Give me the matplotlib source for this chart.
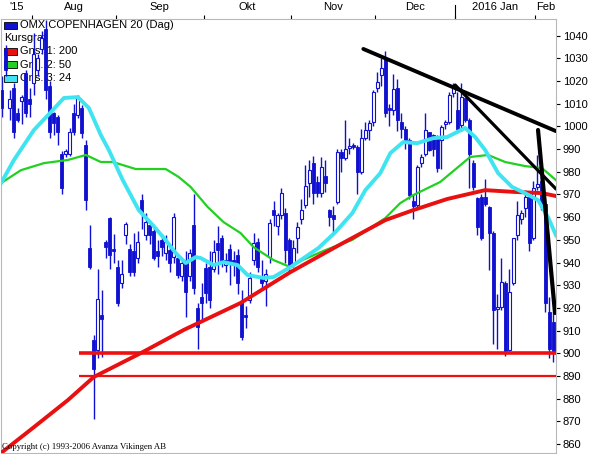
import numpy as np
import matplotlib
matplotlib.use("Agg")
import matplotlib.pyplot as plt
from matplotlib.patches import Rectangle
from matplotlib.lines import Line2D

# daily candles, Jul 22 2015 .. Feb 5 2016 (trading days)
opens = [1016, 1034, 1008, 1017, 1006, 1011, 1023.5, 1012, 1019, 1025,
         1034, 1043, 1018, 1006, 1004, 988, 988, 988, 1006, 1005,
         1008, 992, 946.4, 906, 901.5, 917, 949, 959.6, 946, 938,
         931, 952, 946, 945, 942, 967.5, 952, 956.5, 954, 945,
         950, 944, 945.5, 942.5, 942, 934, 941, 934, 956.5, 920,
         925, 937.6, 938, 937, 948.6, 951, 939, 946, 941, 943.5,
         922.5, 917, 923.5, 941, 949, 933, 932, 942.5, 963, 956,
         961, 962, 950, 940, 951, 959, 965.5, 975, 984, 975.5,
         970.6, 978, 963, 961, 966.6, 988.6, 986, 990.5, 991.7, 991,
         980, 995, 998.4, 1002, 1017, 1022.6, 1030, 1008, 1007, 1017,
         1002, 999, 994, 967, 965.4, 984, 988, 997.5, 996, 995,
         994, 1001, 1002, 1014.7, 1007, 1000.6, 1012.5, 1003, 984, 968.4,
         969, 969, 964.5, 953, 919.5, 920.4, 931, 901.5, 931, 952,
         959, 964, 969, 951, 973.5, 976, 966, 918, 914]
highs = [1022, 1036, 1016, 1019, 1008, 1014, 1025, 1017, 1041, 1032,
         1042, 1047, 1020, 1006.5, 1005, 989, 990, 999.5, 1010, 1014,
         1009.5, 994, 956.5, 908, 937, 928, 950, 960, 952.5, 941,
         941, 958, 948, 953, 954, 970, 962, 957, 956, 950,
         952, 952, 948, 962, 943, 942, 945, 946, 970, 922,
         931, 940, 945, 950, 956, 952, 944, 948, 945, 946,
         928, 921, 936, 953, 951, 941, 937, 959, 967, 962,
         973, 964, 951, 950, 958, 968, 983, 985, 987, 978,
         986.5, 985, 963.5, 965, 990, 990, 1003, 995, 992.5, 992,
         999, 1002, 1003, 1016, 1024, 1030, 1033, 1010, 1023, 1021,
         1006, 1000, 995, 970, 983, 988, 1006, 997.5, 996.5, 996,
         1000.5, 1003, 1015, 1019, 1015, 1019, 1012.5, 1003.5, 985, 969,
         970, 977, 965, 954, 926, 942, 932, 937, 951, 967,
         963, 972, 970, 976, 987.4, 981, 968, 925, 918]
lows = [1004, 1022, 1003, 995, 1002, 1001, 1004, 1004, 1014, 1022,
        1032, 1012, 995, 996, 992, 970, 986.5, 987, 996, 1003.5,
        995, 963, 937, 871, 898, 898.5, 942, 937, 940, 921,
        929, 948, 934, 934, 940, 955, 950, 948, 941, 938,
        943, 941, 936, 940, 933, 932, 916, 932, 926, 902,
        915, 922, 920, 936, 935, 938, 936, 930, 934, 926,
        906, 911, 922, 939, 936, 928, 921, 940, 956, 952,
        959, 940, 936, 938, 944, 957, 964, 969, 966, 969,
        969, 971, 956, 953, 966, 980, 985, 988, 990, 970,
        979, 994, 994, 1000, 1015, 1018, 1004, 1000, 1005, 998,
        995, 990, 968, 959, 964, 982, 987, 989, 987, 980,
        981, 999, 1001, 1013, 997, 998, 1002, 973, 972, 952,
        950, 965, 936.7, 904, 902, 919, 899, 900, 930, 950,
        957, 960, 945, 950, 972, 963, 918, 898, 896]
closes = [1008, 1025, 1012, 997.5, 1003, 1013, 1006, 1010, 1032, 1030,
          1039, 1016, 997.5, 1001.5, 997.5, 973, 989, 997.5, 997.5, 1012.5,
          997, 967.5, 938, 893, 924, 915, 947, 943.5, 945, 922,
          935, 957, 936, 936, 949, 962, 958, 952, 942, 943,
          947, 949, 940, 960, 934.5, 940, 927, 944, 929, 911.6,
          922, 926.6, 923.5, 944.6, 945.5, 941, 941, 940, 939, 931,
          907, 916, 933, 948.6, 938, 931, 935, 957.4, 961, 961,
          970.6, 945.5, 938, 946.4, 955.6, 963, 973.7, 980.7, 970.6, 970.6,
          982, 975, 960, 959, 988.6, 986, 990, 991.5, 990.7, 980,
          995, 998.4, 1001.5, 1015, 1019.5, 1025.7, 1006, 1007, 1016.4, 1003,
          999, 994, 969.8, 965, 982, 986.6, 998.4, 989.6, 990, 981.6,
          999.7, 1002, 1014, 1017.3, 999, 1013, 1003, 988, 973.5, 955.6,
          951, 966, 953, 919, 920.5, 931.4, 900.4, 927, 951, 961,
          962, 969, 948.6, 973, 974.5, 964.6, 922, 902, 900]

# moving averages (day index, level)
ma200_x = [-0.25, 8, 16.5, 23, 34.75, 45.5, 59.75, 72.25, 83.5, 96, 103, 111.5, 121, 128.5, 135.25, 138.75]
ma200_y = [856.1, 867.5, 879.4, 889.6, 900.1, 910.3, 922.2, 935.8, 946.8, 958.7, 963.1, 968.0, 971.9, 971.1, 970.6, 969.3]
ma50_x = [-0.25, 4.75, 10.5, 16.5, 21, 24.75, 27.75, 33.5, 41, 44.25, 47.25, 51.5, 55.5, 59.75, 63, 68, 72.25,
          75.25, 81, 87.75, 96, 99.75, 103, 109.75, 117.25, 121.75, 126, 131, 135.25, 138.75]
ma50_y = [975.0, 980.7, 983.8, 985.2, 987.4, 984.3, 984.3, 981.2, 981.2, 977.7, 973.3, 964.5, 957.8, 953.0, 946.8,
          941.1, 938.0, 941.1, 945.5, 950.0, 959.6, 966.2, 969.7, 975.5, 986.5, 987.4, 984.3, 982.5, 981.6, 976.3]
ma24_x = [-0.25, 3, 8, 12.25, 15.5, 19, 21.75, 24.75, 26.75, 30.25, 34.25, 37.75, 41, 43.5, 46, 48.5, 49.75, 53,
          55.5, 59, 61.5, 65.5, 68, 72.25, 79.25, 83.5, 87.75, 91, 94.75, 97.25, 100.5, 104, 108, 111.5, 116,
          118.5, 121, 124.25, 127.75, 131, 134.25, 136.75, 138.75]
ma24_y = [975.0, 985.2, 998.4, 1006.3, 1012.5, 1012.9, 1008.1, 996.2, 989.6, 976.3, 963.1, 956.5, 949.9, 944.2,
          939.8, 942.4, 942.0, 938.9, 940.2, 938.9, 934.5, 933.2, 933.6, 938.0, 946.4, 953.4, 961.8, 971.9, 979.4,
          988.2, 993.1, 992.6, 994.8, 995.3, 999.3, 995.3, 989.6, 979.4, 973.3, 970.6, 967.5, 960.0, 952.0]

# drawn trend lines and support levels
trend_lines = [((90.5, 1034.1), (138.75, 997.9)),
               ((113.5, 1018.2), (138.75, 972.4)),
               ((134.25, 998.4), (138.5, 917.8))]
support_levels = [900, 890]

month_labels = ["'15", "Aug", "Sep", "Okt", "Nov", "Dec", "2016 Jan", "Feb"]
month_bounds = [-0.25, 7.5, 28.5, 50.5, 72.5, 93.5, 113.5, 133.5, 138.75]

legend_rows = [("OMX COPENHAGEN 20 (Dag)", "#1010d0"), ("Kursgraf", None),
               ("Gns. 1: 200", "#e81010"), ("Gns. 2: 50", "#22d022"), ("Gns. 3: 24", "#40e4f0")]

BLUE = "#1010d0"
plt.rcParams["font.family"] = ["Liberation Sans", "DejaVu Sans"]

fig = plt.figure(figsize=(5.91, 4.54), dpi=100)
fig.patch.set_facecolor("white")
ax = fig.add_axes([1 / 591, 1 / 454, 555 / 591, 434 / 454])
ax.set_xlim(-0.25, 138.75)
ax.set_ylim(856.1, 1047.3)

idx = np.arange(len(opens))
o = np.array(opens)
c = np.array(closes)
up = c >= o
ax.vlines(idx, lows, highs, color=BLUE, lw=1.0, zorder=2)
body_lo = np.minimum(o, c)
body_h = np.maximum(np.abs(c - o), 0.6)
ax.bar(idx[~up], body_h[~up], bottom=body_lo[~up], width=0.75, color=BLUE, edgecolor=BLUE, lw=0.6, zorder=3)
ax.bar(idx[up], body_h[up], bottom=body_lo[up], width=0.75, color="white", edgecolor=BLUE, lw=0.8, zorder=3)

ax.plot(ma50_x, ma50_y, color="#22d022", lw=1.6, zorder=4)
ax.plot(ma200_x, ma200_y, color="#e81010", lw=2.8, zorder=5)
ax.plot(ma24_x, ma24_y, color="#40e4f0", lw=2.8, zorder=5)

for lvl, lw in zip(support_levels, [2.6, 1.6]):
    ax.plot([19.25, 138.75], [lvl, lvl], color="#ee1010", lw=lw, zorder=6, solid_capstyle="butt")

for ((x0, y0), (x1, y1)), lw in zip(trend_lines, [2.8, 2.3, 3.0]):
    ax.plot([x0, x1], [y0, y1], color="black", lw=lw, zorder=7, solid_capstyle="round")

# right axis ticks
ax.yaxis.tick_right()
ax.set_yticks(np.arange(860, 1041, 10))
ax.tick_params(axis="y", length=3, width=0.8, pad=2, labelsize=8, colors="black")

# months on top
ax.xaxis.tick_top()
ax.set_xticks(month_bounds[1:-1])
ax.set_xticklabels([])
ax.set_xticks([(a + b) / 2 for a, b in zip(month_bounds[:-1], month_bounds[1:])], minor=True)
ax.set_xticklabels(month_labels, minor=True)
ax.tick_params(axis="x", which="major", length=3, width=0.8, color="black", top=True, bottom=False)
ax.tick_params(axis="x", which="minor", length=0, pad=5, labelsize=8, top=True, bottom=False)
ax.add_line(Line2D([113.5, 113.5], [1.0, 1.0 + 14 / 434], transform=ax.get_xaxis_transform(),
                   color="black", lw=0.8, clip_on=False))

for s in ax.spines.values():
    s.set_color("#b8b8b8")
    s.set_linewidth(0.8)


# legend block, under the candles
def px(x, y):
    return (x - 1) / 555, (453 - y) / 434


row_y = [25, 38, 51.5, 64.5, 78]
for (label, col), ry in zip(legend_rows, row_y):
    if col is None:
        ax.text(*px(4, ry), label, transform=ax.transAxes, fontsize=8, va="center", ha="left", zorder=1)
        continue
    x0, y0 = px(4, ry + 3.5)
    ax.add_patch(Rectangle((x0, y0), 13 / 555, 7 / 434, transform=ax.transAxes,
                           facecolor=col, edgecolor="black", lw=0.6, zorder=1))
    ax.text(*px(20, ry), label, transform=ax.transAxes, fontsize=8, va="center", ha="left", zorder=1)

ax.text(*px(2, 447), "Copyright (c) 1993-2006 Avanza Vikingen AB", transform=ax.transAxes,
        fontsize=6.3, family="Liberation Serif", va="center", ha="left", zorder=8)

fig.savefig("out.png", dpi=100, facecolor="white")
